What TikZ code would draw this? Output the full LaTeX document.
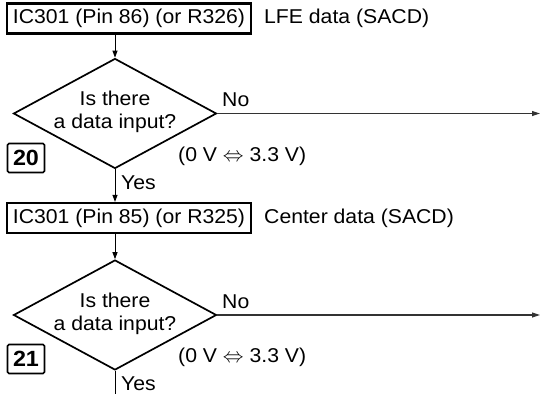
\documentclass[tikz,border=0pt]{standalone}
\usepackage{fontspec}
\setmainfont[FakeStretch=1.06]{Liberation Sans}
\usetikzlibrary{shapes.geometric,arrows.meta}
\begin{document}
\begin{tikzpicture}[x=1pt,y=-1pt,
  txt/.style={font=\fontsize{20}{23}\selectfont, inner sep=0pt},
  stepbox/.style={draw, line width=2.2pt, minimum height=30pt, inner sep=0pt, font=\fontsize{20}{23}\selectfont},
  decide/.style={diamond, draw, line width=1.7pt, minimum width=203pt, minimum height=110pt, inner sep=0pt},
  numbox/.style={draw, line width=1.6pt, rounded corners=1.5pt, minimum width=37pt, minimum height=29pt, inner sep=0pt, font=\fontsize{22}{24}\selectfont\bfseries},
  flow/.style={line width=1pt, -{Triangle[length=7pt,width=5pt]}},
  nobranch/.style={line width=1.1pt, draw=black!80, -{Triangle[length=8pt,width=5pt]}}
]
\useasboundingbox (0,0) rectangle (541,394);

% ---- step 20 ----
\node[stepbox, minimum width=244pt] (b1) at (129,18.5) {IC301 (Pin 86) (or R326)};
\node[txt, anchor=west] (l1) at (264,18) {LFE data (SACD)};
\node[decide] (d1) at (115,113.5) {};
\node[txt, align=center] (q1) at (115,112) {Is there\\a data input?};
\node[txt, anchor=south west] (n1) at (222,107) {No};
\coordinate (e1) at (540,113.5);
\node[txt, anchor=west] (v1) at (178,156) {(0 V $\Leftrightarrow$ 3.3 V)};
\node[numbox] (k1) at (26,158) {20};
\node[txt, anchor=west] (y1) at (121,183) {Yes};

% ---- step 21 ----
\node[stepbox, minimum width=244pt] (b2) at (129,218) {IC301 (Pin 85) (or R325)};
\node[txt, anchor=west] (l2) at (264,218) {Center data (SACD)};
\node[decide] (d2) at (115,315) {};
\node[txt, align=center] (q2) at (115,314) {Is there\\a data input?};
\node[txt, anchor=south west] (n2) at (222,309) {No};
\coordinate (e2) at (540,315);
\node[txt, anchor=west] (v2) at (178,357) {(0 V $\Leftrightarrow$ 3.3 V)};
\node[numbox] (k2) at (26,359) {21};
\node[txt, anchor=west] (y2) at (121,384) {Yes};
\coordinate (e3) at (115,394);

% ---- connectors ----
\draw[flow] (d1.north |- b1.south) -- (d1.north);
\draw[nobranch] (d1.east) -- (e1);
\draw[flow] (d1.south) -- (d1.south |- b2.north);
\draw[flow] (d2.north |- b2.south) -- (d2.north);
\draw[nobranch] (d2.east) -- (e2);
\draw[line width=1pt] (d2.south) -- (e3);
\end{tikzpicture}
\end{document}
